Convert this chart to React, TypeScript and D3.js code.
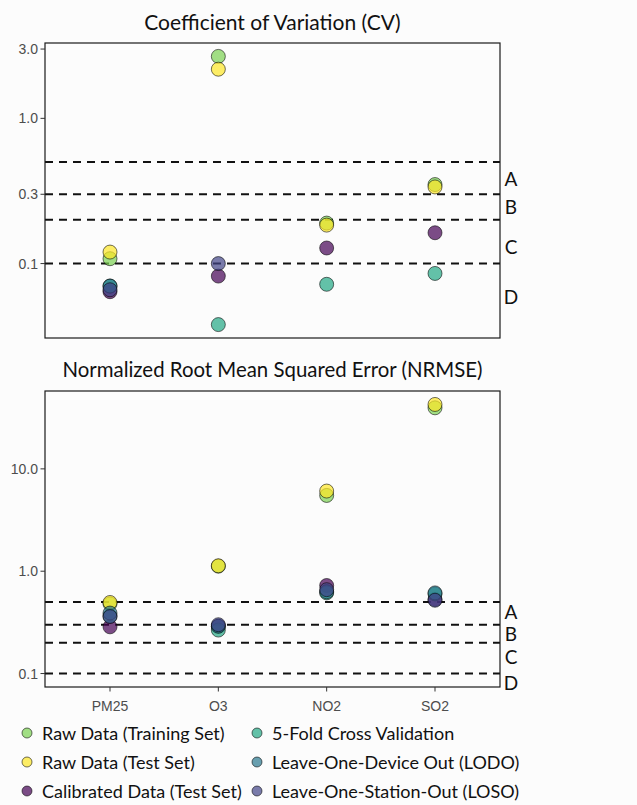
import React, { useEffect, useRef } from "react";
import * as d3 from "d3";

const categories = ["PM25", "O3", "NO2", "SO2"];
const seriesNames = [
  "Raw Data (Training Set)",
  "Raw Data (Test Set)",
  "Calibrated Data (Test Set)",
  "5-Fold Cross Validation",
  "Leave-One-Device Out (LODO)",
  "Leave-One-Station-Out (LOSO)",
];

// coefficient of variation, one value per category (null = not shown)
const cvTrain = [0.108, 2.67, 0.19, 0.35];
const cvTest = [0.12, 2.18, 0.184, 0.337];
const cvCalibrated = [0.064, 0.082, 0.128, 0.163];
const cvFiveFold = [0.07, 0.038, 0.072, 0.0855];
const cvLodo = [0.07, null, null, null];
const cvLoso = [0.066, 0.1, null, null];

// normalized rmse
const nrmseTrain = [0.48, 1.12, 5.5, 39.5];
const nrmseTest = [0.495, 1.13, 6.07, 42.6];
const nrmseCalibrated = [0.286, 0.29, 0.725, 0.53];
const nrmseFiveFold = [0.365, 0.266, 0.614, 0.6];
const nrmseLodo = [0.39, 0.29, 0.63, 0.614];
const nrmseLoso = [0.36, 0.3, 0.66, 0.52];

const thresholds = [0.5, 0.3, 0.2, 0.1];
const grades = ["A", "B", "C", "D"];
const cvGradeAt = [0.384, 0.247, 0.131, 0.059];
const nrmseGradeAt = [0.405, 0.246, 0.146, 0.0826];

const cvTicks = [0.1, 0.3, 1, 3];
const nrmseTicks = [0.1, 1, 10];

const colors = [0.8, 1, 0, 0.6, 0.4, 0.2].map(t => d3.interpolateViridis(t));

const W = 637;
const H = 805;
const left = 45;
const right = 500;
const titleFont = "Lato, 'Open Sans', sans-serif";
const axisFont = "'Liberation Sans', Arial, sans-serif";

function App() {
  const ref = useRef(null);

  useEffect(() => {
    const svg = d3.select(ref.current);
    svg.selectAll("*").remove();

    svg.append("rect").attr("width", W).attr("height", H).attr("fill", "#fcfcfc");

    const x = d3.scalePoint().domain(categories).range([left, right]).padding(0.6);

    const drawPanel = (opts) => {
      const { title, titleSize, titleY, top, bottom, series, ticks, gradeAt, showX } = opts;
      const all = series.flat().filter(v => v != null).concat(thresholds);
      const lo = Math.log10(d3.min(all));
      const hi = Math.log10(d3.max(all));
      const pad = (hi - lo) * 0.05;
      const y = d3.scaleLog()
        .domain([Math.pow(10, lo - pad), Math.pow(10, hi + pad)])
        .range([bottom, top]);

      const g = svg.append("g");

      g.append("text")
        .attr("x", (left + right) / 2)
        .attr("y", titleY)
        .attr("text-anchor", "middle")
        .attr("dominant-baseline", "central")
        .attr("font-family", titleFont)
        .attr("font-size", titleSize)
        .attr("fill", "#111")
        .text(title);

      // threshold lines
      g.append("g")
        .selectAll("line")
        .data(thresholds)
        .join("line")
          .attr("x1", left)
          .attr("x2", right)
          .attr("y1", d => y(d))
          .attr("y2", d => y(d))
          .attr("stroke", "#111")
          .attr("stroke-width", 2)
          .attr("stroke-dasharray", "8,6");

      // points
      series.forEach((vals, si) => {
        g.append("g")
          .selectAll("circle")
          .data(vals.map((v, i) => ({ cat: categories[i], v })).filter(d => d.v != null))
          .join("circle")
            .attr("cx", d => x(d.cat))
            .attr("cy", d => y(d.v))
            .attr("r", 7)
            .attr("fill", colors[si])
            .attr("fill-opacity", 0.7)
            .attr("stroke", "#000")
            .attr("stroke-opacity", 0.7)
            .attr("stroke-width", 0.8);
      });

      // frame
      g.append("rect")
        .attr("x", left)
        .attr("y", top)
        .attr("width", right - left)
        .attr("height", bottom - top)
        .attr("fill", "none")
        .attr("stroke", "#1a1a1a")
        .attr("stroke-width", 1.2);

      // y axis
      const yAxis = g.append("g");
      yAxis.selectAll("line")
        .data(ticks)
        .join("line")
          .attr("x1", left - 4.5)
          .attr("x2", left)
          .attr("y1", d => y(d))
          .attr("y2", d => y(d))
          .attr("stroke", "#333");
      yAxis.selectAll("text")
        .data(ticks)
        .join("text")
          .attr("x", left - 7)
          .attr("y", d => y(d))
          .attr("text-anchor", "end")
          .attr("dominant-baseline", "central")
          .attr("font-family", axisFont)
          .attr("font-size", 14)
          .attr("fill", "#4d4d4d")
          .text(d => d3.format(".1f")(d));

      // grade letters
      g.append("g")
        .selectAll("text")
        .data(grades)
        .join("text")
          .attr("x", right + 11)
          .attr("y", (d, i) => y(gradeAt[i]))
          .attr("text-anchor", "middle")
          .attr("dominant-baseline", "central")
          .attr("font-family", titleFont)
          .attr("font-size", 19)
          .attr("fill", "#111")
          .text(d => d);

      if (showX) {
        const xAxis = g.append("g");
        xAxis.selectAll("line")
          .data(categories)
          .join("line")
            .attr("x1", d => x(d))
            .attr("x2", d => x(d))
            .attr("y1", bottom)
            .attr("y2", bottom + 4.5)
            .attr("stroke", "#333");
        xAxis.selectAll("text")
          .data(categories)
          .join("text")
            .attr("x", d => x(d))
            .attr("y", bottom + 19)
            .attr("text-anchor", "middle")
            .attr("dominant-baseline", "central")
            .attr("font-family", axisFont)
            .attr("font-size", 14)
            .attr("fill", "#4d4d4d")
            .text(d => d);
      }
    };

    drawPanel({
      title: "Coefficient of Variation (CV)",
      titleSize: 21,
      titleY: 21,
      top: 43,
      bottom: 338,
      series: [cvTrain, cvTest, cvCalibrated, cvFiveFold, cvLodo, cvLoso],
      ticks: cvTicks,
      gradeAt: cvGradeAt,
      showX: false,
    });

    drawPanel({
      title: "Normalized Root Mean Squared Error (NRMSE)",
      titleSize: 20.4,
      titleY: 369,
      top: 391,
      bottom: 687,
      series: [nrmseTrain, nrmseTest, nrmseCalibrated, nrmseFiveFold, nrmseLodo, nrmseLoso],
      ticks: nrmseTicks,
      gradeAt: nrmseGradeAt,
      showX: true,
    });

    // legend, two columns of three
    const legend = svg.append("g")
      .selectAll("g")
      .data(seriesNames)
      .join("g")
        .attr("transform", (d, i) => `translate(${i < 3 ? 27 : 257},${733 + (i % 3) * 29})`);
    legend.append("circle")
      .attr("r", 5)
      .attr("fill", (d, i) => colors[i])
      .attr("fill-opacity", 0.7)
      .attr("stroke", "#000")
      .attr("stroke-opacity", 0.7)
      .attr("stroke-width", 0.8);
    legend.append("text")
      .attr("x", 15)
      .attr("dominant-baseline", "central")
      .attr("font-family", titleFont)
      .attr("font-size", 18)
      .attr("fill", "#111")
      .text(d => d);
  }, []);

  return (
    <div style={{ position: "absolute", left: 0, top: 0 }}>
      <svg ref={ref} width={W} height={H} style={{ display: "block" }}></svg>
    </div>
  );
}

export default App;
